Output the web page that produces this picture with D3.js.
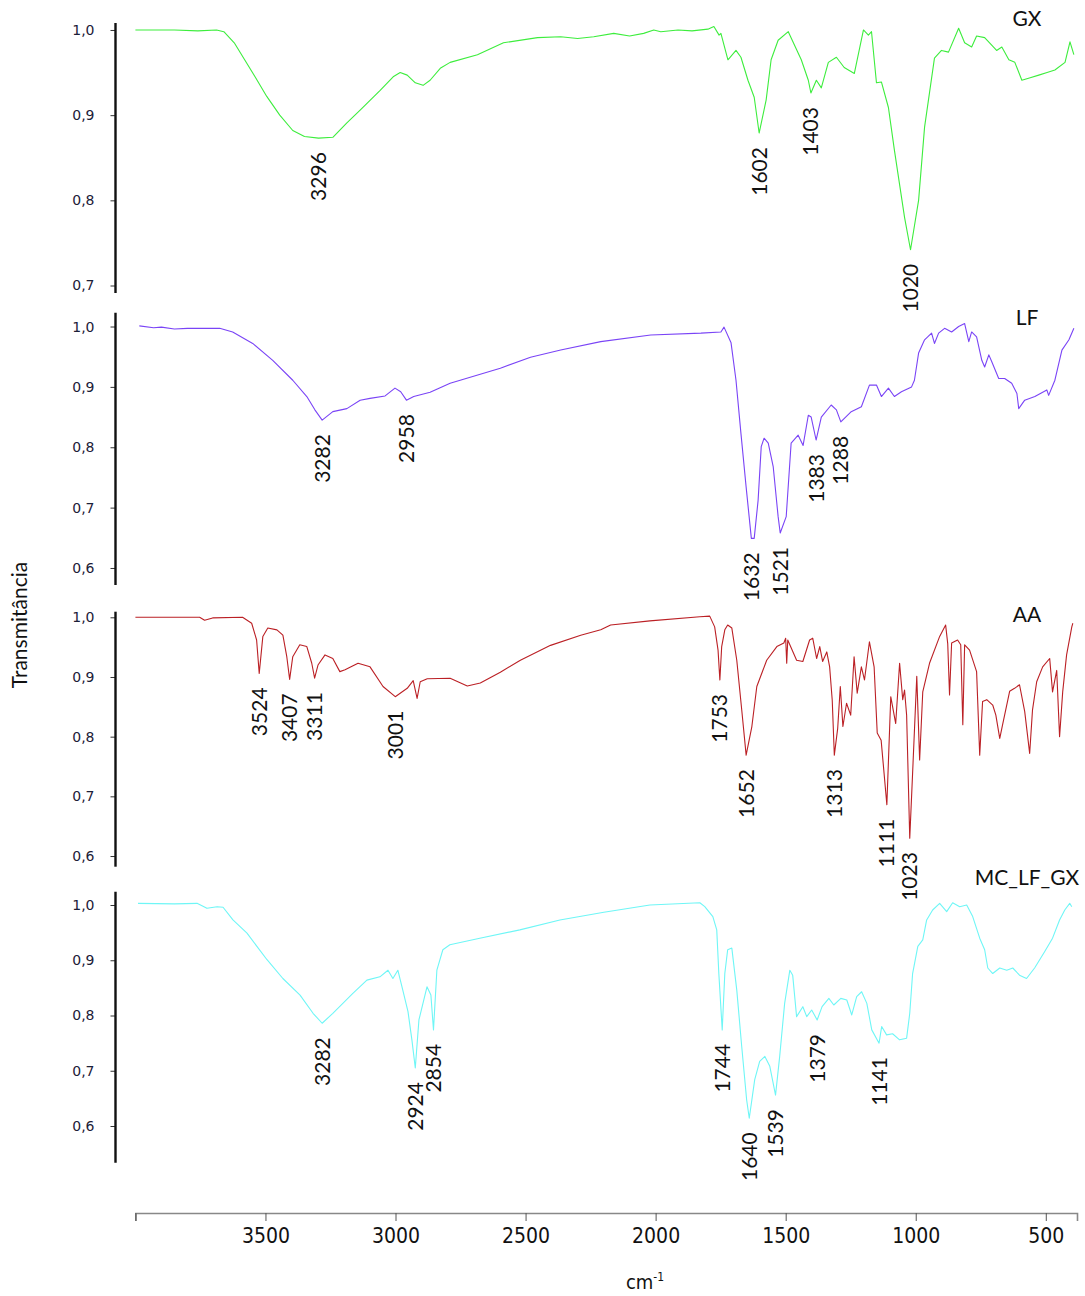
<!DOCTYPE html>
<html>
<head>
<meta charset="utf-8">
<script src="https://cdn.jsdelivr.net/npm/d3@7"></script>
<style>
  body { margin: 0; background: #fff; }
  svg { display: block; }
</style>
</head>
<body>
<svg id="chart" width="1085" height="1296"></svg>
<script>
// FTIR spectra: [wavenumber (cm-1), transmittance]
const gxSpectrum = [
  [4000,1.000],[3850,1.000],[3760,0.999],[3688,1.000],[3660,0.998],[3620,0.985],[3580,0.965],[3540,0.945],
  [3495,0.922],[3445,0.900],[3395,0.882],[3350,0.875],[3296,0.873],[3241,0.874],[3187,0.891],[3136,0.906],
  [3059,0.929],[3009,0.945],[2982,0.950],[2955,0.947],[2924,0.938],[2894,0.935],[2867,0.941],
  [2828,0.955],[2790,0.962],[2685,0.971],[2585,0.985],[2454,0.991],[2365,0.992],[2300,0.990],[2238,0.992],
  [2161,0.996],[2100,0.993],[2046,0.996],[2007,1.000],[1980,0.998],[1914,1.000],[1860,0.999],[1799,1.001],[1776,1.004],
  [1756,0.994],[1749,0.996],[1722,0.965],[1691,0.976],[1672,0.968],[1645,0.941],[1621,0.921],
  [1602,0.879],[1575,0.918],[1556,0.965],[1529,0.988],[1490,0.998],[1440,0.965],[1413,0.941],
  [1403,0.926],[1382,0.941],[1363,0.932],[1336,0.962],[1305,0.968],[1275,0.956],[1236,0.949],
  [1201,1.000],[1182,0.994],[1170,0.998],[1151,0.938],[1132,0.939],[1105,0.909],[1082,0.859],
  [1043,0.780],[1020,0.742],[989,0.800],[966,0.886],[928,0.967],[901,0.976],[874,0.974],
  [835,1.002],[812,0.985],[785,0.980],[766,0.993],[735,0.991],[689,0.976],[669,0.980],
  [642,0.965],[619,0.962],[592,0.941],[560,0.944],[527,0.947],[495,0.950],[465,0.953],[426,0.962],[407,0.986],[392,0.971]
];

const lfSpectrum = [
  [3985,1.001],[3930,0.998],[3900,0.999],[3850,0.996],[3800,0.997],[3676,0.997],[3626,0.991],[3549,0.972],
  [3472,0.944],[3395,0.911],[3341,0.884],[3310,0.862],[3282,0.845],[3241,0.859],[3187,0.864],
  [3136,0.878],[3098,0.881],[3040,0.885],[3002,0.898],[2980,0.892],[2958,0.878],[2930,0.884],
  [2867,0.891],[2790,0.906],[2597,0.931],[2481,0.949],[2365,0.961],[2211,0.975],[2019,0.986],
  [1826,0.989],[1749,0.991],[1737,0.999],[1710,0.973],[1691,0.911],[1672,0.823],[1652,0.734],
  [1632,0.649],[1621,0.649],[1606,0.712],[1594,0.801],[1583,0.815],[1567,0.807],[1548,0.768],
  [1529,0.685],[1521,0.658],[1498,0.685],[1479,0.807],[1452,0.820],[1433,0.803],[1413,0.853],
  [1402,0.850],[1383,0.812],[1363,0.850],[1325,0.870],[1305,0.862],[1288,0.842],[1248,0.859],
  [1209,0.867],[1178,0.903],[1151,0.903],[1132,0.884],[1105,0.898],[1082,0.884],[1055,0.892],
  [1016,0.900],[1005,0.911],[989,0.956],[966,0.978],[939,0.989],[928,0.972],[912,0.989],
  [889,0.997],[862,0.991],[835,1.000],[812,1.005],[796,0.975],[785,0.991],[766,0.983],
  [746,0.944],[735,0.933],[719,0.953],[708,0.942],[681,0.914],[658,0.914],[631,0.906],
  [611,0.889],[604,0.864],[581,0.878],[542,0.884],[496,0.895],[489,0.886],[465,0.911],
  [438,0.961],[411,0.978],[392,0.997]
];

const aaSpectrum = [
  [4000,1.000],[3753,1.000],[3734,0.995],[3703,0.999],[3588,1.000],[3553,0.990],[3534,0.962],
  [3524,0.906],[3510,0.968],[3491,0.982],[3456,0.979],[3433,0.970],[3418,0.934],[3407,0.896],
  [3395,0.934],[3368,0.954],[3341,0.951],[3322,0.923],[3311,0.898],[3298,0.920],[3271,0.937],
  [3241,0.931],[3214,0.909],[3194,0.912],[3144,0.923],[3098,0.917],[3048,0.884],[3001,0.867],
  [2955,0.881],[2932,0.894],[2917,0.864],[2905,0.892],[2878,0.897],[2790,0.898],[2724,0.885],
  [2674,0.890],[2597,0.908],[2520,0.928],[2404,0.953],[2288,0.970],[2211,0.979],[2173,0.987],
  [2022,0.994],[1830,1.001],[1792,1.002],[1773,0.984],[1760,0.945],[1753,0.895],[1746,0.951],
  [1734,0.979],[1723,0.987],[1707,0.982],[1688,0.928],[1669,0.845],[1652,0.769],[1630,0.817],
  [1611,0.884],[1573,0.928],[1534,0.951],[1507,0.957],[1500,0.965],[1496,0.923],[1492,0.962],
  [1458,0.928],[1434,0.926],[1408,0.962],[1396,0.965],[1381,0.931],[1369,0.951],[1358,0.926],
  [1342,0.942],[1331,0.917],[1321,0.861],[1313,0.769],[1300,0.814],[1290,0.884],[1280,0.817],
  [1266,0.856],[1250,0.836],[1237,0.934],[1225,0.873],[1209,0.917],[1197,0.895],[1178,0.959],
  [1160,0.917],[1148,0.806],[1133,0.794],[1111,0.686],[1096,0.867],[1077,0.822],[1062,0.923],
  [1050,0.862],[1043,0.878],[1035,0.836],[1023,0.630],[1012,0.739],[996,0.901],[985,0.761],
  [973,0.875],[947,0.923],[908,0.968],[885,0.987],[877,0.956],[870,0.870],[862,0.957],
  [839,0.962],[827,0.954],[819,0.820],[812,0.954],[793,0.945],[766,0.909],[754,0.769],
  [743,0.859],[727,0.862],[704,0.853],[692,0.836],[677,0.797],[666,0.820],[639,0.876],
  [620,0.881],[601,0.887],[581,0.842],[562,0.772],[551,0.845],[535,0.892],[512,0.917],
  [485,0.931],[474,0.875],[458,0.911],[447,0.800],[435,0.875],[420,0.937],[400,0.984],[396,0.990]
];

const mcSpectrum = [
  [3990,1.003],[3850,1.002],[3763,1.003],[3725,0.994],[3686,0.997],[3663,0.996],[3625,0.973],
  [3571,0.949],[3494,0.901],[3433,0.867],[3367,0.837],[3317,0.804],[3282,0.786],[3241,0.804],
  [3164,0.840],[3110,0.864],[3060,0.870],[3029,0.882],[3010,0.867],[2991,0.882],[2972,0.846],
  [2952,0.807],[2937,0.756],[2924,0.705],[2910,0.792],[2879,0.852],[2864,0.837],[2854,0.774],
  [2841,0.882],[2818,0.919],[2791,0.928],[2676,0.940],[2522,0.955],[2368,0.973],[2199,0.987],
  [2022,1.000],[1830,1.004],[1811,0.997],[1780,0.979],[1765,0.955],[1757,0.876],[1744,0.774],
  [1734,0.876],[1723,0.919],[1707,0.922],[1688,0.846],[1669,0.744],[1650,0.647],[1640,0.614],
  [1619,0.684],[1600,0.717],[1580,0.726],[1561,0.708],[1539,0.656],[1523,0.726],[1504,0.822],
  [1484,0.882],[1473,0.873],[1458,0.798],[1434,0.816],[1419,0.798],[1400,0.810],[1379,0.792],
  [1360,0.816],[1334,0.831],[1315,0.819],[1288,0.831],[1265,0.828],[1246,0.801],[1227,0.834],
  [1208,0.843],[1188,0.822],[1169,0.774],[1141,0.750],[1131,0.780],[1112,0.765],[1089,0.767],
  [1062,0.756],[1035,0.759],[1023,0.804],[1012,0.876],[992,0.925],[973,0.937],[958,0.973],
  [935,0.991],[908,1.003],[881,0.988],[858,1.004],[831,0.997],[804,1.000],[781,0.979],
  [754,0.940],[735,0.919],[723,0.886],[704,0.876],[677,0.886],[650,0.882],[627,0.886],
  [601,0.873],[574,0.867],[543,0.886],[504,0.916],[474,0.940],[447,0.973],[427,0.991],
  [408,1.003],[400,0.997]
];

// Band positions annotated on each spectrum (cm-1)
const gxPeaks = [3296, 1602, 1403, 1020];
const lfPeaks = [3282, 2958, 1632, 1521, 1383, 1288];
const aaPeaks = [3524, 3407, 3311, 3001, 1753, 1652, 1313, 1111, 1023];
const mcPeaks = [3282, 2924, 2854, 1744, 1640, 1539, 1379, 1141];

const seriesNames = ["GX", "LF", "AA", "MC_LF_GX"];

// Axis ticks
const gxTicks = [0.7, 0.8, 0.9, 1.0];
const lfTicks = [0.6, 0.7, 0.8, 0.9, 1.0];
const aaTicks = [0.6, 0.7, 0.8, 0.9, 1.0];
const mcTicks = [0.6, 0.7, 0.8, 0.9, 1.0];
const xTickValues = [4000, 3500, 3000, 2500, 2000, 1500, 1000, 500];
const xTickLabels = ["", "3500", "3000", "2500", "2000", "1500", "1000", "500"];

const yTitle = "Transmitância";
const xTitle = "cm";
const xTitleSup = "-1";

// ---- layout ----
const W = 1085, H = 1296;
const axisX = 115.5;
const panels = [
  { data: gxSpectrum, peaks: gxPeaks, ticks: gxTicks, name: seriesNames[0], top: 23,    bottom: 293,    lo: 0.6912, hi: 1.0082, nameY: 26,  color: "#3ded3d" },
  { data: lfSpectrum, peaks: lfPeaks, ticks: lfTicks, name: seriesNames[1], top: 312.7, bottom: 585,    lo: 0.5718, hi: 1.0229, nameY: 325, color: "#7a44f6" },
  { data: aaSpectrum, peaks: aaPeaks, ticks: aaTicks, name: seriesNames[2], top: 611.7, bottom: 866.7,  lo: 0.5821, hi: 1.0094, nameY: 622, color: "#bb2025" },
  { data: mcSpectrum, peaks: mcPeaks, ticks: mcTicks, name: seriesNames[3], top: 891.7, bottom: 1162.7, lo: 0.5336, hi: 1.0241, nameY: 885, color: "#6ff6f6" }
];

const svg = d3.select("#chart");
svg.append("rect").attr("width", W).attr("height", H).attr("fill", "#fff");

const x = d3.scaleLinear().domain([4000, 380]).range([135.4, 1077]);

const labelFont = "Lato, 'Open Sans', sans-serif";
const fmt = v => d3.format(".1f")(v).replace(".", ",");

panels.forEach(p => {
  const y = d3.scaleLinear().domain([p.lo, p.hi]).range([p.bottom, p.top]);
  const g = svg.append("g");

  // y axis
  const ax = d3.axisLeft(y).tickValues(p.ticks).tickFormat(fmt).tickSize(5).tickPadding(16);
  const axg = g.append("g").attr("transform", `translate(${axisX},0)`).call(ax);
  axg.select(".domain").remove();
  axg.append("line")
    .attr("x1", 0).attr("x2", 0).attr("y1", p.top).attr("y2", p.bottom)
    .attr("stroke", "#111").attr("stroke-width", 2.4);
  axg.selectAll(".tick line").attr("stroke", "#333").attr("stroke-width", 1);
  axg.selectAll(".tick text")
    .attr("fill", "#1c2038")
    .style("font-family", "'DejaVu Sans', Verdana, sans-serif")
    .style("font-size", "14px");

  // spectrum
  const line = d3.line().x(d => x(d[0])).y(d => y(d[1]));
  g.append("path").datum(p.data)
    .attr("d", line)
    .attr("fill", "none")
    .attr("stroke", p.color)
    .attr("stroke-width", 1.1)
    .attr("stroke-linejoin", "round");

  // band annotations
  const lookup = new Map(p.data.map(d => [d[0], d[1]]));
  g.selectAll("text.peak").data(p.peaks).join("text")
    .attr("class", "peak")
    .attr("transform", d => `translate(${x(d)},${y(lookup.get(d)) + 14}) rotate(-90)`)
    .attr("text-anchor", "end")
    .attr("dy", "0.36em")
    .style("font-family", labelFont)
    .style("font-size", "21px")
    .attr("fill", "#111")
    .text(d => d);

  // series name
  g.append("text")
    .attr("x", 1027).attr("y", p.nameY)
    .attr("text-anchor", "middle")
    .style("font-family", labelFont)
    .style("font-size", "21px")
    .attr("fill", "#111")
    .text(p.name);
});

// x axis
const xAxisY = 1213;
const xa = d3.axisBottom(x).tickValues(xTickValues)
  .tickFormat((d, i) => xTickLabels[i]).tickSize(8).tickPadding(7);
const xg = svg.append("g").attr("transform", `translate(0,${xAxisY})`).call(xa);
xg.select(".domain").attr("stroke", "#888").attr("stroke-width", 1.6);
xg.selectAll(".tick line").attr("stroke", "#555");
xg.selectAll(".tick text")
  .attr("fill", "#111")
  .style("font-family", "'Liberation Sans Narrow', 'DejaVu Sans Condensed', Lato, sans-serif")
  .style("font-size", "21px");

// axis titles
svg.append("text")
  .attr("transform", "translate(27,625) rotate(-90)")
  .attr("text-anchor", "middle")
  .style("font-family", labelFont)
  .style("font-size", "21px")
  .attr("fill", "#111")
  .text(yTitle);

const xt = svg.append("text")
  .attr("x", 645).attr("y", 1289)
  .attr("text-anchor", "middle")
  .style("font-family", "'Liberation Sans Narrow', 'DejaVu Sans Condensed', Lato, sans-serif")
  .style("font-size", "20px")
  .attr("fill", "#111");
xt.append("tspan").text(xTitle);
xt.append("tspan").attr("dy", "-8").style("font-size", "12px").text(xTitleSup);
</script>
</body>
</html>
